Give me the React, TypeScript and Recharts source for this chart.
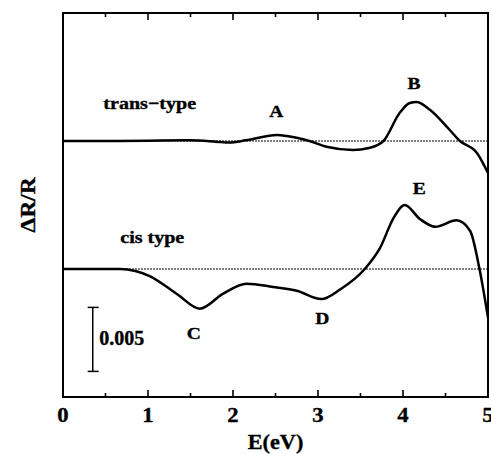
import React from "react";
import {
  LineChart,
  Line,
  XAxis,
  YAxis,
  ReferenceLine,
  ReferenceArea,
  ReferenceDot,
} from "recharts";

// photon energy (eV) and dR/R (units of 1e-3)
const transEnergy = [0, 0.5, 1.0, 1.5, 1.8, 1.96, 2.15, 2.52, 2.75, 2.9, 3.1, 3.41, 3.6, 3.77, 3.96, 4.08, 4.16, 4.32, 4.55, 4.67, 4.87, 5.0];
const transValue = [0, 0, 0.02, 0.05, -0.05, -0.12, 0.05, 0.47, 0.25, 0, -0.45, -0.7, -0.55, 0, 2.19, 2.97, 3.05, 2.42, 0.86, 0, -0.94, -2.5];

const cisEnergy = [0, 0.67, 0.85, 1.02, 1.34, 1.61, 1.88, 2.16, 2.47, 2.75, 3.04, 3.26, 3.55, 3.73, 3.89, 4.02, 4.2, 4.38, 4.63, 4.79, 4.9, 5.0];
const cisValue = [0, 0, -0.15, -0.55, -1.95, -3.1, -1.95, -1.15, -1.4, -1.7, -2.35, -1.6, 0, 1.65, 4.0, 5.0, 3.9, 3.3, 3.8, 2.97, 0, -3.8];

// vertical offsets of the two traces
const TRANS_OFFSET = 20;
const CIS_OFFSET = 10;

const xTicks = [0, 0.5, 1, 1.5, 2, 2.5, 3, 3.5, 4, 4.5, 5];
const Y_MIN = 0;
const Y_MAX = 30;

const transData = transEnergy.map((e, i) => ({ e, v: transValue[i] + TRANS_OFFSET }));
const cisData = cisEnergy.map((e, i) => ({ e, v: cisValue[i] + CIS_OFFSET }));

const FONT = '"Liberation Serif", "Times New Roman", serif';

function SText({ x, y, text, size, sx = 1, rotate = 0 }: any) {
  return (
    <text
      transform={`translate(${x},${y}) rotate(${rotate}) scale(${sx},1)`}
      textAnchor="middle"
      dominantBaseline="central"
      fontFamily={FONT}
      fontWeight="bold"
      fontSize={size}
      fill="#000"
      stroke="#000"
      strokeWidth={0.35}
    >
      {text}
    </text>
  );
}

// tick marks point inward from the frame; only whole eV get a number
const BottomTick = (props: any) => {
  const { x, y, payload } = props;
  const major = Number.isInteger(payload.value);
  return (
    <g>
      <path d={`M${x},${y}V${y - (major ? 7 : 4)}`} stroke="#000" strokeWidth={1.6} fill="none" />
      {major && <SText x={x} y={y + 18} text={String(payload.value)} size={21} sx={1.08} />}
    </g>
  );
};

const TopTick = (props: any) => {
  const { x, y, payload } = props;
  const major = Number.isInteger(payload.value);
  return <path d={`M${x},${y}V${y + (major ? 7 : 4)}`} stroke="#000" strokeWidth={1.6} fill="none" />;
};

const tag = (text: string, size: number, sx: number) => ({
  content: (p: any) => {
    const vb = p.viewBox;
    return <SText x={vb.x + vb.width / 2} y={vb.y + vb.height / 2} text={text} size={size} sx={sx} />;
  },
});

const annotations = [
  { text: "trans\u2212type", e: 1.02, v: 23.0, size: 17, sx: 1.18 },
  { text: "A", e: 2.51, v: 22.3, size: 17, sx: 1.15 },
  { text: "B", e: 4.13, v: 24.5, size: 17, sx: 1.15 },
  { text: "cis type", e: 1.05, v: 12.5, size: 17, sx: 1.18 },
  { text: "E", e: 4.19, v: 16.3, size: 17, sx: 1.15 },
  { text: "C", e: 1.54, v: 5.0, size: 17, sx: 1.15 },
  { text: "D", e: 3.05, v: 6.1, size: 17, sx: 1.15 },
  { text: "0.005", e: 0.69, v: 4.6, size: 20, sx: 1.0 },
];

export default function App() {
  return (
    <div style={{ position: "absolute", left: 0, top: 0, width: 491, height: 454, background: "#fff" }}>
      <LineChart width={491} height={454} margin={{ top: 0, right: 3, bottom: 0, left: 0 }}>
        <XAxis
          dataKey="e"
          type="number"
          domain={[0, 5]}
          ticks={xTicks}
          interval={0}
          height={57}
          axisLine={false}
          tickLine={false}
          tickSize={0}
          tickMargin={0}
          tick={<BottomTick />}
          allowDataOverflow
          label={{
            content: (p: any) => {
              const vb = p.viewBox;
              return <SText x={vb.x + vb.width / 2} y={442} text="E(eV)" size={21} sx={1.06} />;
            },
          }}
        />
        <XAxis
          xAxisId="top"
          orientation="top"
          dataKey="e"
          type="number"
          domain={[0, 5]}
          ticks={xTicks}
          interval={0}
          height={13}
          axisLine={false}
          tickLine={false}
          tickSize={0}
          tickMargin={0}
          tick={<TopTick />}
          allowDataOverflow
        />
        <YAxis
          type="number"
          domain={[Y_MIN, Y_MAX]}
          width={63}
          tick={false}
          axisLine={false}
          tickLine={false}
          allowDataOverflow
          label={{
            content: (p: any) => {
              const vb = p.viewBox;
              return <SText x={28} y={vb.y + vb.height / 2} text={"\u0394R/R"} size={21} sx={1.12} rotate={-90} />;
            },
          }}
        />
        <ReferenceArea x1={0} x2={5} y1={Y_MIN} y2={Y_MAX} fill="none" stroke="#000" strokeWidth={2} ifOverflow="visible" />
        <ReferenceLine y={TRANS_OFFSET} stroke="#000" strokeWidth={1} strokeDasharray="2 1" />
        <ReferenceLine y={CIS_OFFSET} stroke="#000" strokeWidth={1} strokeDasharray="2 1" />
        <ReferenceLine segment={[{ x: 0.35, y: 2 }, { x: 0.35, y: 7 }]} stroke="#000" strokeWidth={1.5} />
        <ReferenceLine segment={[{ x: 0.29, y: 7 }, { x: 0.42, y: 7 }]} stroke="#000" strokeWidth={1.5} />
        <ReferenceLine segment={[{ x: 0.29, y: 2 }, { x: 0.42, y: 2 }]} stroke="#000" strokeWidth={1.5} />
        <Line data={transData} dataKey="v" type="monotone" stroke="#000" strokeWidth={2.5} dot={false} isAnimationActive={false} />
        <Line data={cisData} dataKey="v" type="monotone" stroke="#000" strokeWidth={2.5} dot={false} isAnimationActive={false} />
        {annotations.map((a) => (
          <ReferenceDot key={a.text} x={a.e} y={a.v} r={1} fill="none" stroke="none" label={tag(a.text, a.size, a.sx)} />
        ))}
      </LineChart>
    </div>
  );
}
